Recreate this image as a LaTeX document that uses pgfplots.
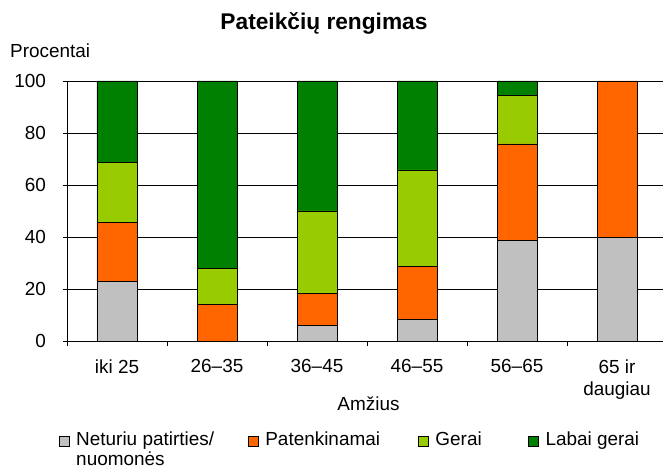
\documentclass[border=0pt]{standalone}
\usepackage{fontspec}
\setmainfont{Liberation Sans}
\usepackage{pgfplots}
\pgfplotsset{compat=1.18}
\definecolor{cgray}{HTML}{C0C0C0}
\definecolor{corange}{HTML}{FF6600}
\definecolor{clgreen}{HTML}{99CC00}
\definecolor{cdgreen}{HTML}{008000}
\begin{document}
\begin{tikzpicture}
\useasboundingbox (-67bp,-127bp) rectangle (597bp,341bp);
\begin{axis}[
  at={(0,0)}, anchor=south west,
  scale only axis, width=596bp, height=260bp,
  font=\fontsize{19}{21}\selectfont,
  /pgf/number format/assume math mode=true,
  ybar stacked, bar width=40bp,
  xmin=-0.5, xmax=5.46, ymin=0, ymax=100,
  axis lines=left, axis line style={-, black, line width=0.6bp},
  ytick={0,20,...,100},
  ymajorgrids, grid style={black, line width=0.6bp},
  tick align=outside,
  major tick length=4bp,
  major y tick style={black, line width=0.6bp},
  xtick={0,...,5},
  xticklabels={iki 25,26--35,36--45,46--55,56--65,{65 ir\\[1.5bp]daugiau}},
  xticklabel style={align=center, anchor=north, inner sep=0pt, yshift=-14.2bp},
  major x tick style={draw=none},
  minor xtick={-0.5,0.5,1.5,2.5,3.5,4.5,5.5},
  minor tick length=5bp,
  minor x tick style={black, line width=0.6bp},
  yticklabel style={xshift=-13.5bp},
  legend columns=4,
  legend style={at={(axis description cs:-0.0135,-0.3500)}, anchor=north west, draw=none, inner sep=0pt,
    nodes={inner sep=0pt, anchor=base west},
    /tikz/every odd column/.append style={column sep=6.5bp}},
  legend image code/.code={\draw[#1, draw=black, line width=0.6bp] (0bp,0bp) rectangle (10bp,10bp);},
]
\addplot[fill=cgray, draw=black, line width=0.8bp] coordinates {(0,23) (1,0) (2,6) (3,8.3) (4,38.8) (5,40)};
\addplot[fill=corange, draw=black, line width=0.8bp] coordinates {(0,22.7) (1,14) (2,12.3) (3,20.5) (4,37) (5,60)};
\addplot[fill=clgreen, draw=black, line width=0.8bp] coordinates {(0,23) (1,14) (2,31.7) (3,37) (4,18.8) (5,0)};
\addplot[fill=cdgreen, draw=black, line width=0.8bp] coordinates {(0,31.3) (1,72) (2,50) (3,34.2) (4,5.4) (5,0)};
\legend{\makebox[172bp][l]{\fontsize{19}{18.5}\selectfont\begin{tabular}[t]{@{}l@{}}Neturiu patirties/\\nuomonės\end{tabular}},
  \makebox[153bp][l]{Patenkinamai},
  \makebox[93bp][l]{Gerai},
  Labai gerai}
\end{axis}
\node[anchor=base, font=\fontsize{22.8}{26}\selectfont\bfseries] at (257bp,311bp) {Pateikčių rengimas};
\node[anchor=base west, inner sep=0pt, font=\fontsize{19}{21}\selectfont] at (-57bp,283.3bp) {Procentai};
\node[anchor=base, inner sep=0pt, font=\fontsize{19}{21}\selectfont] at (301.5bp,-69.7bp) {Amžius};
\end{tikzpicture}
\end{document}
